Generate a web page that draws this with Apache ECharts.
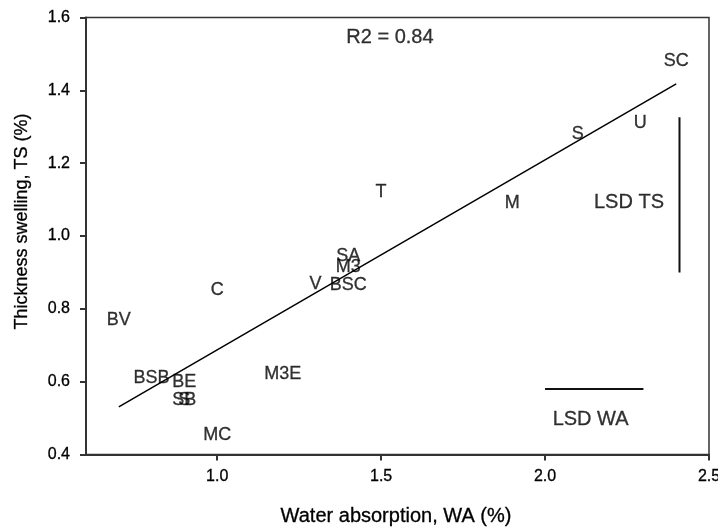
<!DOCTYPE html>
<html>
<head>
<meta charset="utf-8">
<script src="https://cdn.jsdelivr.net/npm/echarts@6/dist/echarts.min.js"></script>
<style>html,body{margin:0;padding:0;background:#fff}#c{width:718px;height:527px}</style>
</head>
<body>
<div id="c"></div>
<script>
// Treatment labels and their coordinates
var labels = ['SC','U','S','T','M','SA','M3','V','BSC','C','BV','BSB','BE','SB','S','M3E','MC'];
var waValues = [2.40,2.29,2.10,1.50,1.90,1.40,1.40,1.30,1.40,1.00,0.70,0.80,0.90,0.90,0.90,1.20,1.00];
var tsValues = [1.48,1.31,1.28,1.12,1.09,0.945,0.914,0.868,0.866,0.852,0.77,0.611,0.60,0.55,0.55,0.62,0.454];

// Regression line end points
var fitX = [0.70, 2.40];
var fitY = [0.531, 1.418];

// LSD bars
var lsdTsX = [2.41, 2.41];
var lsdTsY = [0.90, 1.326];
var lsdWaX = [2.00, 2.30];
var lsdWaY = [0.58, 0.58];

// Annotations
var noteTexts = ['R2 = 0.84', 'LSD TS', 'LSD WA'];
var noteX = [1.527, 2.256, 2.139];
var noteY = [1.546, 1.093, 0.497];

// Axis ticks
var xTicks = [1.0, 1.5, 2.0, 2.5];
var yTicks = [0.4, 0.6, 0.8, 1.0, 1.2, 1.4, 1.6];

var FONT = "'Liberation Sans', Arial, sans-serif";
function pairs(xs, ys){ return xs.map(function(x,i){ return [x, ys[i]]; }); }

var chart = echarts.init(document.getElementById('c'), null, {renderer:'canvas'});
chart.setOption({
  animation: false,
  backgroundColor: '#fff',
  grid: {left: 86, right: 9, top: 17.5, bottom: 72.5, outerBoundsMode: 'none', containLabel: false,
         show: true, borderColor: '#333', borderWidth: 1.5, backgroundColor: 'transparent'},
  xAxis: {
    type: 'value', min: 0.6, max: 2.5, interval: 0.1,
    axisLine: {show: true, lineStyle: {color: '#333', width: 2}},
    axisTick: {show: true, inside: false, length: 6, customValues: xTicks, lineStyle: {color: '#333', width: 2}},
    axisLabel: {show: true, customValues: xTicks, margin: 14, color: '#000', fontSize: 16, fontFamily: FONT,
      textBorderColor: '#000', textBorderWidth: 0.3, hideOverlap: false,
      formatter: function(v){ return v.toFixed(1); }},
    splitLine: {show: false}
  },
  yAxis: {
    type: 'value', min: 0.4, max: 1.6, interval: 0.2,
    axisLine: {show: true, lineStyle: {color: '#333', width: 2}},
    axisTick: {show: true, inside: false, length: 6, lineStyle: {color: '#333', width: 2}},
    axisLabel: {show: true, margin: 16, color: '#000', fontSize: 16, fontFamily: FONT,
      textBorderColor: '#000', textBorderWidth: 0.3,
      formatter: function(v){ return v.toFixed(1); }},
    splitLine: {show: false}
  },
  graphic: [
    {type: 'text', x: 396, y: 516, style: {text: 'Water absorption, WA (%)', fill: '#000', stroke: '#000', lineWidth: 0.3, font: '20px ' + FONT, textAlign: 'center', textVerticalAlign: 'middle'}},
    {type: 'text', x: 22.5, y: 221.5, rotation: Math.PI/2, style: {text: 'Thickness swelling, TS (%)', fill: '#000', stroke: '#000', lineWidth: 0.3, font: '18px ' + FONT, textAlign: 'center', textVerticalAlign: 'middle'}}
  ],
  series: [
    {type: 'line', data: pairs(fitX, fitY), symbol: 'none', lineStyle: {color: '#000', width: 1.5}, silent: true, z: 2},
    {type: 'line', data: pairs(lsdTsX, lsdTsY), symbol: 'none', lineStyle: {color: '#111', width: 2}, silent: true, z: 2},
    {type: 'line', data: pairs(lsdWaX, lsdWaY), symbol: 'none', lineStyle: {color: '#111', width: 2}, silent: true, z: 2},
    {type: 'scatter', symbolSize: 0, z: 3,
      data: labels.map(function(l,i){ return {value: [waValues[i], tsValues[i]], name: l}; }),
      label: {show: true, position: 'inside', formatter: '{b}', color: '#000', fontSize: 18, fontFamily: FONT, align: 'center', verticalAlign: 'middle',
        textBorderColor: '#000', textBorderWidth: 0.3}
    },
    {type: 'scatter', symbolSize: 0, z: 3,
      data: noteTexts.map(function(t,i){ return {value: [noteX[i], noteY[i]], name: t}; }),
      label: {show: true, position: 'inside', formatter: '{b}', color: '#000', fontSize: 20, fontFamily: FONT, align: 'center', verticalAlign: 'middle',
        textBorderColor: '#000', textBorderWidth: 0.3}
    }
  ]
});
</script>
</body>
</html>
